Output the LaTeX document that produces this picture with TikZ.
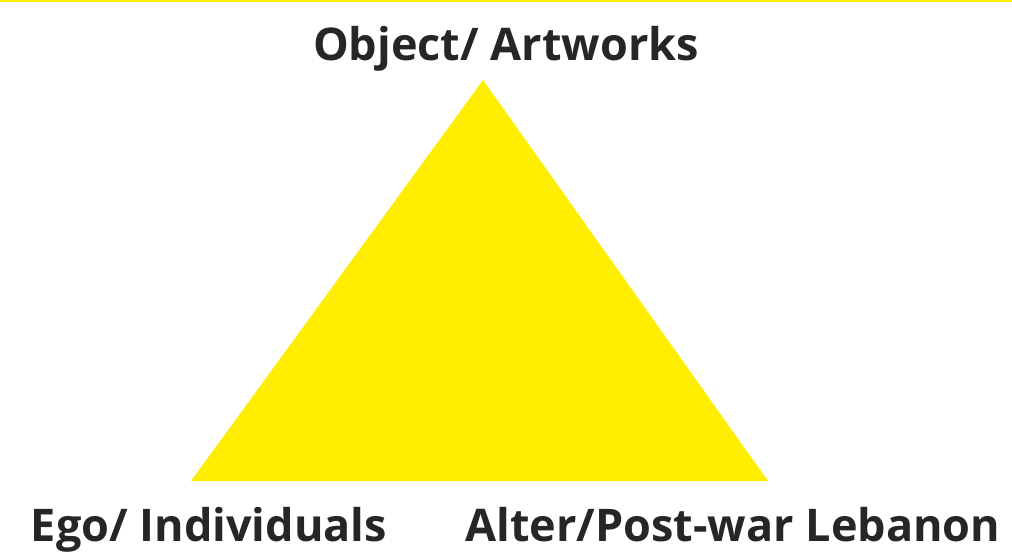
\documentclass[tikz,border=0pt]{standalone}
\usepackage{fontspec}
\setmainfont{Open Sans}
\usetikzlibrary{positioning}
\definecolor{TriYellow}{HTML}{FFEE00}

\begin{document}
\begin{tikzpicture}[x=1pt, y=-1pt,
        label/.style = {font=\fontsize{45}{50}\selectfont\bfseries, text=black!85, inner sep=0pt, anchor=base}
    ]
    \useasboundingbox (0,0) rectangle (1012,559);

    % thin line along the top edge
    \fill[TriYellow] (0,0) rectangle (1012,2);

    % corners of the triangle
    \coordinate (apex)  at (483,80);
    \coordinate (left)  at (191,481);
    \coordinate (right) at (768,481);
    \fill[TriYellow] (apex) -- (left) -- (right) -- cycle;

    % labels
    \node[label] (object) at (506,61)  {Object/ Artworks};
    \node[label] (ego)    at (209,541) {Ego/ Individuals};
    \node[label] (alter)  at (733,541) {Alter/Post-war Lebanon};
\end{tikzpicture}
\end{document}
